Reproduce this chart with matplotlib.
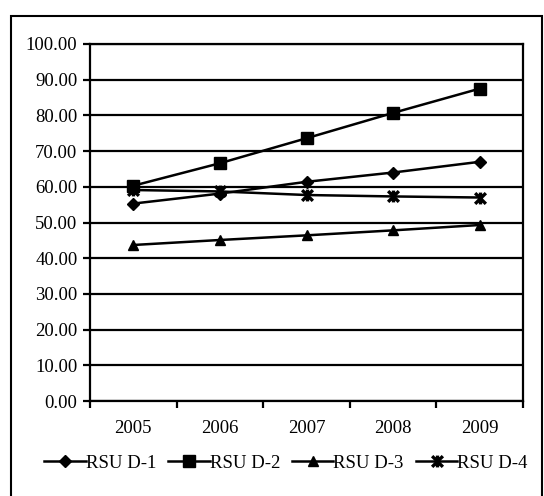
import matplotlib.pyplot as plt
from matplotlib.path import Path
from matplotlib.patches import Rectangle
from matplotlib.ticker import FixedLocator

plt.rcParams['font.family'] = ['Liberation Serif', 'DejaVu Serif']

years = ['2005', '2006', '2007', '2008', '2009']
rsu_d1 = [55.3, 58.1, 61.4, 64.0, 67.0]
rsu_d2 = [60.3, 66.6, 73.6, 80.7, 87.5]
rsu_d3 = [43.7, 45.1, 46.4, 47.8, 49.3]
rsu_d4 = [59.1, 58.7, 57.7, 57.3, 57.0]
series_names = ['RSU D-1', 'RSU D-2', 'RSU D-3', 'RSU D-4']

# asterisk-style marker: an x crossed by a vertical stroke
star = Path([(-1, -1), (1, 1), (-1, 1), (1, -1), (0, -1.1), (0, 1.1)],
            [Path.MOVETO, Path.LINETO, Path.MOVETO, Path.LINETO,
             Path.MOVETO, Path.LINETO])

fig = plt.figure(figsize=(5.44, 4.96), dpi=100)
ax = fig.add_axes([90/544, 1 - 401/496, 433/544, 357/496])

# outer border around the whole chart
fig.patches.append(Rectangle((11/544, -0.05), 531/544, 1 - 16/496 + 0.05,
                             transform=fig.transFigure, fill=False,
                             edgecolor='black', linewidth=1.5, zorder=0))

x = range(len(years))
styles = [
    (rsu_d1, dict(marker='D', markersize=6.5)),
    (rsu_d2, dict(marker='s', markersize=8.5)),
    (rsu_d3, dict(marker='^', markersize=7.5)),
    (rsu_d4, dict(marker=star, markersize=8.5, markeredgewidth=2.4)),
]
for (vals, kw), name in zip(styles, series_names):
    ax.plot(x, vals, color='black', linewidth=1.8, label=name,
            markerfacecolor='black', markeredgecolor='black', zorder=3, **kw)

ax.set_ylim(0, 100)
ax.set_yticks(range(0, 101, 10))
ax.set_yticklabels([f'{v:.2f}' for v in range(0, 101, 10)])
ax.set_xlim(-0.5, len(years) - 0.5)
ax.set_xticks(list(x))
ax.set_xticklabels(years)
ax.xaxis.set_minor_locator(FixedLocator([i - 0.5 for i in range(len(years) + 1)]))

ax.grid(axis='y', color='black', linewidth=1.6, zorder=1)
ax.set_axisbelow(True)
for s in ax.spines.values():
    s.set_linewidth(1.6)

ax.tick_params(axis='y', which='major', length=5, width=1.6, labelsize=13.5, pad=4)
ax.tick_params(axis='x', which='major', length=0, labelsize=13.5, pad=14)
ax.tick_params(axis='x', which='minor', length=5, width=1.6)

fig.legend(loc='center', bbox_to_anchor=(286/544, 1 - 463/496), ncol=4,
           frameon=False, fontsize=13.5, handlelength=2.2, handletextpad=0.0,
           columnspacing=0.65)

fig.savefig('out.png', dpi=100)
